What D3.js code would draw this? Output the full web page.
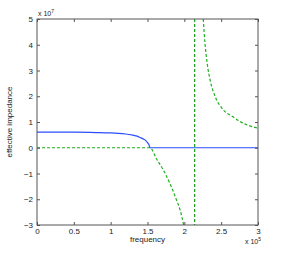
<!DOCTYPE html>
<html>
<head>
<meta charset="utf-8">
<script src="https://cdn.jsdelivr.net/npm/d3@7"></script>
<style>
  body { margin: 0; background: #fff; }
  svg { font-family: "Liberation Sans", Arial, sans-serif; }
  .tick text { font-size: 8px; fill: #222; }
</style>
</head>
<body>
<div id="vis"></div>
<script>
// frequency in units of 1e5, impedance in units of 1e7
const blueF = [0, 0.3, 0.5, 0.8, 1.0, 1.1, 1.2, 1.3, 1.36, 1.4, 1.45, 1.48, 1.5, 1.52, 1.535, 3];
const blueZ = [0.61, 0.608, 0.605, 0.59, 0.575, 0.56, 0.535, 0.49, 0.45, 0.40, 0.33, 0.27, 0.2, 0.12, 0, 0];

const greenLowF = [0, 1.535, 1.62, 1.71, 1.80, 1.89, 1.96, 1.99];
const greenLowZ = [0, 0, -0.42, -0.84, -1.36, -2.0, -2.6, -3.0];

const greenHighF = [2.257, 2.28, 2.31, 2.35, 2.42, 2.53, 2.66, 2.80, 2.96, 3.0];
const greenHighZ = [5.0, 4.06, 3.28, 2.63, 1.98, 1.47, 1.2, 0.95, 0.79, 0.76];

const asymptoteF = 2.14;

const xTicks = [0, 0.5, 1, 1.5, 2, 2.5, 3];
const yTicks = [-3, -2, -1, 0, 1, 2, 3, 4, 5];

const margin = {top: 19, right: 28, bottom: 28, left: 37};
const W = 286, H = 253;
const width = W - margin.left - margin.right;
const height = H - margin.top - margin.bottom;

const svg = d3.select('#vis').append('svg')
    .attr('width', W).attr('height', H);
const g = svg.append('g')
    .attr('transform', 'translate(' + margin.left + ',' + margin.top + ')');

const x = d3.scaleLinear().domain([0, 3]).range([0, width]);
const y = d3.scaleLinear().domain([-3, 5]).range([height, 0]);

g.append('clipPath').attr('id', 'clip')
    .append('rect').attr('width', width).attr('height', height);

const smooth = d3.line().curve(d3.curveMonotoneX).x(d => x(d[0])).y(d => y(d[1]));
const plot = g.append('g').attr('clip-path', 'url(#clip)');

plot.append('path')
    .datum(greenLowF.map((f, i) => [f, greenLowZ[i]]))
    .attr('d', smooth).attr('fill', 'none')
    .attr('stroke', '#1fae1f').attr('stroke-width', 1.2)
    .attr('stroke-dasharray', '3,2');

plot.append('path')
    .datum(greenHighF.map((f, i) => [f, greenHighZ[i]]))
    .attr('d', smooth)
    .attr('fill', 'none')
    .attr('stroke', '#1fae1f').attr('stroke-width', 1.2)
    .attr('stroke-dasharray', '3,2');

plot.append('line')
    .attr('x1', x(asymptoteF)).attr('x2', x(asymptoteF))
    .attr('y1', 0).attr('y2', height)
    .attr('stroke', '#1a9a1a').attr('stroke-width', 1.2)
    .attr('stroke-dasharray', '3,2');

plot.append('path')
    .datum(blueF.map((f, i) => [f, blueZ[i]]))
    .attr('d', smooth)
    .attr('fill', 'none')
    .attr('stroke', '#2a4dff').attr('stroke-width', 1.2);

// axes with inward ticks, box style
const axisColor = '#555';
function styleAxis(sel) {
    sel.select('.domain').remove();
    sel.selectAll('.tick line').attr('stroke', axisColor);
}
g.append('g').attr('transform', 'translate(0,' + height + ')')
    .call(d3.axisBottom(x).tickValues(xTicks).tickSizeInner(-3).tickSizeOuter(0).tickPadding(3).tickFormat(d3.format('')))
    .call(styleAxis);
g.append('g')
    .call(d3.axisTop(x).tickValues(xTicks).tickSizeInner(-3).tickSizeOuter(0).tickFormat(''))
    .call(styleAxis);
g.append('g')
    .call(d3.axisLeft(y).tickValues(yTicks).tickSizeInner(-3).tickSizeOuter(0).tickPadding(4).tickFormat(d3.format('')))
    .call(styleAxis);
g.append('g').attr('transform', 'translate(' + width + ',0)')
    .call(d3.axisRight(y).tickValues(yTicks).tickSizeInner(-3).tickSizeOuter(0).tickFormat(''))
    .call(styleAxis);

g.append('rect').attr('width', width).attr('height', height)
    .attr('fill', 'none').attr('stroke', axisColor).attr('stroke-width', 1);

// labels
g.append('text').attr('x', width / 2).attr('y', height + 17)
    .attr('text-anchor', 'middle').style('font-size', '8px').attr('fill', '#222')
    .text('frequency');
g.append('text')
    .attr('transform', 'translate(' + (-25) + ',' + (height / 2) + ') rotate(-90)')
    .attr('text-anchor', 'middle').style('font-size', '8px').attr('fill', '#222')
    .text('effective impedance');

const e7 = g.append('text').attr('x', 1).attr('y', -3)
    .style('font-size', '7px').attr('fill', '#222');
e7.append('tspan').text('x 10');
e7.append('tspan').attr('dy', -3).style('font-size', '5px').text('7');

const e5 = g.append('text').attr('x', width - 13).attr('y', height + 19)
    .style('font-size', '7px').attr('fill', '#222');
e5.append('tspan').text('x 10');
e5.append('tspan').attr('dy', -3).style('font-size', '5px').text('5');
</script>
</body>
</html>
